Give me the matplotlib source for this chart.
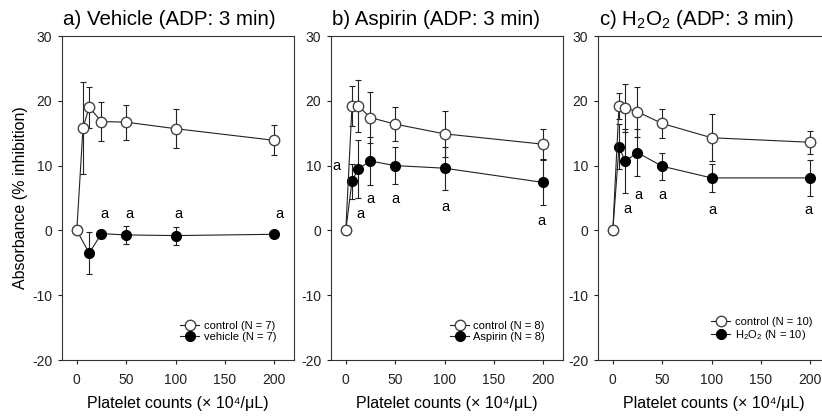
import matplotlib
matplotlib.use("Agg")
import matplotlib.pyplot as plt
from matplotlib.lines import Line2D

plt.rcParams['font.family'] = ['Liberation Sans', 'DejaVu Sans']
plt.rcParams['mathtext.fontset'] = 'custom'
plt.rcParams['mathtext.rm'] = 'Liberation Sans'
plt.rcParams['axes.unicode_minus'] = False

# platelet counts (x 10^4/uL)
x_all = [0, 6.25, 12.5, 25, 50, 100, 200]
x_vehicle = [0, 12.5, 25, 50, 100, 200]

# a) vehicle
ctrl_a = [0, 15.8, 19.0, 16.8, 16.7, 15.7, 13.9]
ctrl_a_err = [0, 7.1, 3.2, 3.0, 2.7, 3.0, 2.3]
veh_a = [0, -3.5, -0.5, -0.7, -0.8, -0.6]
veh_a_err = [0, 3.2, 0.6, 1.4, 1.4, 0.4]
sig_a_x = [28, 53, 103, 205]
sig_a_y = [2.5, 2.5, 2.5, 2.5]

# b) aspirin
ctrl_b = [0, 19.2, 19.2, 17.4, 16.4, 14.9, 13.3]
ctrl_b_err = [0, 3.1, 4.0, 3.9, 2.6, 3.6, 2.3]
asp_b = [0, 7.6, 9.5, 10.7, 10.0, 9.6, 7.4]
asp_b_err = [0, 2.7, 4.5, 3.7, 2.8, 3.3, 3.5]
sig_b_x = [-9.5, 14.6, 25.4, 49.8, 101, 198]
sig_b_y = [9.9, 2.5, 4.9, 4.9, 3.6, 1.4]

# c) H2O2
ctrl_c = [0, 19.2, 18.9, 18.3, 16.5, 14.3, 13.6]
ctrl_c_err = [0, 2.0, 3.7, 3.9, 2.3, 3.6, 1.8]
h2o2_c = [0, 12.9, 10.7, 12.0, 9.9, 8.1, 8.1]
h2o2_c_err = [0, 3.5, 4.9, 3.6, 2.1, 2.2, 2.8]
sig_c_x = [14.5, 25.5, 50, 100.8, 198]
sig_c_y = [3.3, 5.5, 5.5, 3.2, 3.1]

panels = [
    ("a) Vehicle (ADP: 3 min)", x_vehicle, veh_a, veh_a_err, ctrl_a, ctrl_a_err,
     "control (N = 7)", "vehicle (N = 7)", sig_a_x, sig_a_y),
    ("b) Aspirin (ADP: 3 min)", x_all, asp_b, asp_b_err, ctrl_b, ctrl_b_err,
     "control (N = 8)", "Aspirin (N = 8)", sig_b_x, sig_b_y),
    (r"c) $\mathregular{H_2O_2}$ (ADP: 3 min)", x_all, h2o2_c, h2o2_c_err, ctrl_c, ctrl_c_err,
     "control (N = 10)", r"$\mathregular{H_2O_2}$ (N = 10)", sig_c_x, sig_c_y),
]

fig = plt.figure(figsize=(8.22, 4.18), dpi=100)
lefts = [62, 331, 598]
dark = '#222222'

for i, (title, xt, yt, et, yc, ec, lab_c, lab_t, sx, sy) in enumerate(panels):
    ax = fig.add_axes([lefts[i] / 822, 58 / 418, 232 / 822, 324 / 418])

    # treated group (filled circles)
    ax.errorbar(xt, yt, yerr=et, fmt='-o', color=dark, mfc='black', mec='black',
                ms=7, lw=0.8, elinewidth=0.8, capsize=2.5, capthick=0.8, zorder=2)
    # control group (open circles)
    ax.errorbar(x_all, yc, yerr=ec, fmt='-o', color=dark, mfc='white', mec='#444444',
                ms=7.5, lw=0.8, elinewidth=0.8, capsize=2.5, capthick=0.8, zorder=3)

    for x, y in zip(sx, sy):
        ax.text(x, y, 'a', ha='center', va='center', fontsize=10.5, color='black')

    ax.set_xlim(-15, 220)
    ax.set_ylim(-20, 30)
    ax.set_xticks([0, 50, 100, 150, 200])
    ax.set_yticks([-20, -10, 0, 10, 20, 30])
    ax.tick_params(direction='out', length=3, width=0.8, labelsize=10, colors=dark)
    ax.tick_params(axis='x', pad=6)
    ax.tick_params(axis='y', pad=4)
    for sp in ax.spines.values():
        sp.set_linewidth(0.8)
        sp.set_color('#333333')

    ax.set_title(title, loc='left', fontsize=14.8, pad=8, x=0.005)
    ax.set_xlabel("Platelet counts (\u00d7 10\u2074/\u03bcL)", fontsize=11.5, labelpad=7)
    if i == 0:
        ax.set_ylabel("Absorbance (% inhibition)", fontsize=11.5, labelpad=3)

    hc = Line2D([], [], color=dark, lw=0.8, marker='o', ms=7.5, mfc='white', mec='#444444')
    ht = Line2D([], [], color=dark, lw=0.8, marker='o', ms=7, mfc='black', mec='black')
    ax.legend([hc, ht], [lab_c, lab_t], loc='lower right', frameon=False, fontsize=8,
              handlelength=1.7, handletextpad=0.4, labelspacing=0.1, borderaxespad=1.2)

plt.savefig("out.png", dpi=100)
